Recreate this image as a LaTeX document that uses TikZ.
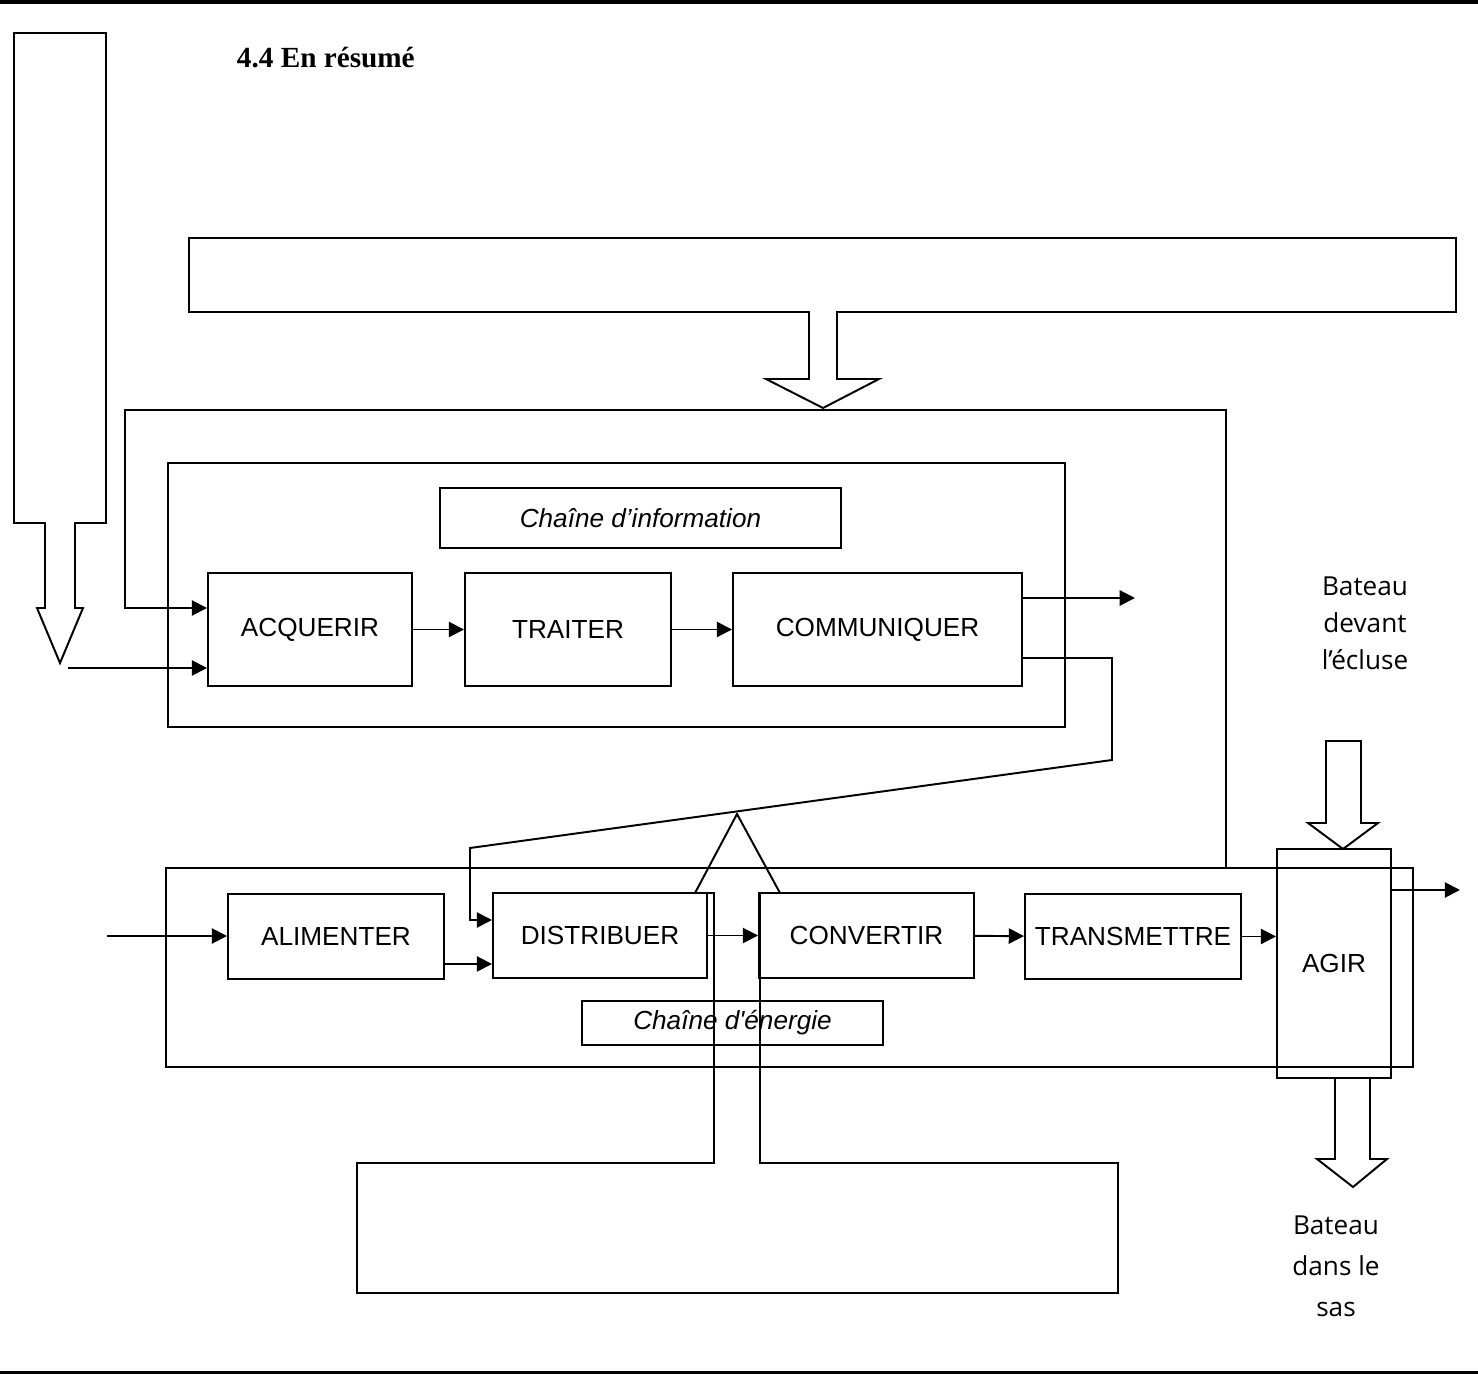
\documentclass[tikz,border=0pt]{standalone}
\usepackage{fontspec}
\setmainfont{Liberation Sans}
\newfontfamily\titlefont{Liberation Serif}
\newfontfamily\comicfont{Open Sans}
\usepackage{tikz}
\usetikzlibrary{positioning}
\usetikzlibrary{arrows.meta}
\newcommand{\pxu}{0.4587pt}
\tikzset {
  % function blocks, sized in pixels of the drawing
  bloc/.style 2 args = {draw, rectangle, inner sep=0pt, minimum width=#1*\pxu, minimum height=#2*\pxu, font=\fontsize{12}{14}\selectfont},
  % chain names
  etiq/.style = {font=\fontsize{12}{14}\selectfont\itshape},
  titre/.style = {inner sep=0pt, font=\titlefont\bfseries\fontsize{13.4}{15}\selectfont},
  bateau/.style = {align=center, font=\comicfont\fontsize{12}{17}\selectfont},
  page/.style = {line width=2pt},
}
\begin{document}
\begin{tikzpicture}[x=\pxu, y=-\pxu, line width=0.9pt, >={Triangle[length=7pt,width=7pt]}]
      \useasboundingbox (0,0) rectangle (1478,1374);
      \draw[page] (0,1.5) -- (1478,1.5);
      \draw[page] (0,1373) -- (1478,1373);

      \node[titre, anchor=base west] (titre) at (236,68) {4.4 En résumé};

      % chaine d'information
      \node[bloc={897}{264}] (info) at (616.5,595) {};
      \node[bloc={401}{60}, etiq] (infolbl) at (640.5,518) {Chaîne d’information};
      \node[bloc={204}{113}] (acq) at (310,629.5) {ACQUERIR};
      \node[bloc={206}{113}] (trait) at (568,629.5) {TRAITER};
      \node[bloc={289}{113}] (comm) at (877.5,629.5) {COMMUNIQUER};

      % chaine d'energie
      \node[bloc={1247}{199}] (energie) at (789.5,967.5) {};
      \node[bloc={301}{44}, etiq] (enerlbl) at (732.5,1023) {Chaîne d\textquotesingle énergie};
      \node[bloc={216}{85}] (alim) at (336,936.5) {ALIMENTER};
      \node[bloc={214}{85}] (distr) at (600,935.5) {DISTRIBUER};
      \node[bloc={215}{85}] (conv) at (866.5,935.5) {CONVERTIR};
      \node[bloc={216}{85}] (trans) at (1133,936.5) {TRANSMETTRE};
      \node[bloc={114}{229}] (agir) at (1334,963.5) {AGIR};

      \node[bateau] (devant) at (1365,623) {Bateau\\devant\\l’écluse};
      \node[bateau, font=\comicfont\fontsize{12}{18.8}\selectfont] (sas) at (1336,1266) {Bateau\\dans le\\sas};

      % block arrows
      \draw (809,312) -- (189,312) -- (189,238) -- (1456,238) -- (1456,312) -- (837,312)
            -- (837,379) -- (879,379) -- (823,408) -- (766,379) -- (809,379) -- cycle;
      \draw (14,33) -- (106,33) -- (106,523) -- (75,523) -- (75,608) -- (83,608)
            -- (60,663) -- (37,608) -- (45,608) -- (45,523) -- (14,523) -- cycle;
      \draw (714,1163) -- (357,1163) -- (357,1293) -- (1118,1293) -- (1118,1163) -- (760,1163)
            -- (760,893) -- (780,893) -- (737,814) -- (695,893) -- (714,893) -- cycle;
      \draw (1326,741) -- (1361,741) -- (1361,823) -- (1378,823) -- (1343,849) -- (1308,823) -- (1326,823) -- cycle;
      \draw (1335,1078) -- (1335,1159) -- (1317,1159) -- (1353,1187) -- (1387,1159) -- (1370,1159) -- (1370,1078);

      \coordinate (fbA) at (1226,410);
      \coordinate (fbB) at (125,410);
      \coordinate (fbC) at (125,608);
      \coordinate (capt) at (68,668);
      \coordinate (msg) at (1135,598);
      \coordinate (ordA) at (1112,658);
      \coordinate (ordB) at (1112,760);
      \coordinate (ordC) at (470,848);
      \coordinate (ordD) at (470,920);
      \coordinate (ein) at (107,936);
      \coordinate (alimout) at ([yshift=-12.6pt]alim.east);
      \coordinate (aout) at (1460,890);

      \draw [->] (energie.north -| fbA) -- (fbA) -- (fbB) -- (fbC) -- (fbC -| acq.west);
      \draw [->] (capt) -- (capt -| acq.west);
      \draw [->] (acq) -- (trait);
      \draw [->] (trait) -- (comm);
      \draw [->] (msg -| comm.east) -- (msg);
      \draw [->] (ordA -| comm.east) -- (ordA) -- (ordB) -- (ordC) -- (ordD) -- (ordD -| distr.west);

      \draw [->] (ein) -- (ein -| alim.west);
      \draw [->] (alimout) -- (alimout -| distr.west);
      \draw [->] (distr) -- (conv);
      \draw [->] (conv) -- (trans);
      \draw [->] (trans.east) -- (trans.east -| agir.west);
      \draw [->] (aout -| agir.east) -- (aout);
\end{tikzpicture}
\end{document}
